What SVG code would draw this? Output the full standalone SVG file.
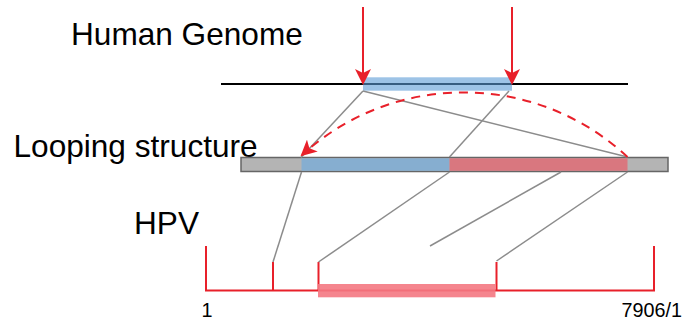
<svg xmlns="http://www.w3.org/2000/svg" width="687" height="329" viewBox="0 0 687 329">
<style>
.lbl{font-family:"Liberation Sans",Arial,sans-serif;fill:#000}
.big{font-size:31.6px}
.num{font-size:19.8px}
.gl{stroke:#8c8c8c;stroke-width:1.5;fill:none}
.red{stroke:#e8202a;stroke-width:2;fill:none}
</style>
<defs>
<marker id="ah" viewBox="0 0 16 16" refX="14" refY="8" markerWidth="16" markerHeight="16" markerUnits="userSpaceOnUse" orient="auto">
<path d="M0,0 L16,8 L0,16 L4,8 Z" fill="#e8202a"/>
</marker>
</defs>
<g id="labels">
<text class="lbl big" x="71" y="45">Human Genome</text>
<text class="lbl big" x="13.5" y="157">Looping structure</text>
<text class="lbl big" x="134" y="234">HPV</text>
<text class="lbl num" x="201.5" y="317">1</text>
<text class="lbl num" x="621.5" y="317">7906/1</text>
</g>
<g id="human-genome">
<line x1="221" y1="84" x2="628" y2="84" stroke="#000" stroke-width="2"/>
<rect x="363" y="77.3" width="149" height="13.4" fill="#5b9bd5" fill-opacity="0.6"/>
</g>
<g id="looping-structure">
<rect x="241" y="157.5" width="427" height="14" fill="#b4b4b4" stroke="#666" stroke-width="1.5"/>
<rect x="301.5" y="158.3" width="148" height="12.5" fill="#86aed0"/>
<rect x="449.5" y="158.3" width="178" height="12.5" fill="#d9777f"/>
</g>
<g id="hpv">
<polyline class="red" points="206,246 206,290.5 654,290.5 654,246"/>
<line class="red" x1="273" y1="262" x2="273" y2="290.5"/>
<line class="red" x1="318.5" y1="262" x2="318.5" y2="290.5"/>
<line class="red" x1="496.5" y1="262" x2="496.5" y2="290.5"/>
<rect x="318" y="284" width="177.5" height="13.3" fill="#f47882" fill-opacity="0.9"/>
</g>
<g id="connectors">
<line class="gl" x1="363" y1="91" x2="301" y2="157.5"/>
<line class="gl" x1="363" y1="91" x2="627.5" y2="157"/>
<line class="gl" x1="509" y1="91" x2="449.5" y2="157"/>
<line class="gl" x1="301.5" y1="172" x2="273" y2="262"/>
<line class="gl" x1="449.5" y1="172" x2="318.5" y2="262"/>
<line class="gl" x1="561" y1="172" x2="430" y2="246"/>
<line class="gl" x1="627.5" y1="172" x2="496.5" y2="261"/>
<line class="red" x1="363" y1="7" x2="363" y2="83" marker-end="url(#ah)"/>
<line class="red" x1="512" y1="7" x2="512" y2="83" marker-end="url(#ah)"/>
<path class="red" d="M627.5,157 A240,240 0 0 0 302,155" stroke-width="1.8" stroke-dasharray="9,7" marker-end="url(#ah)"/>
</g>
</svg>
